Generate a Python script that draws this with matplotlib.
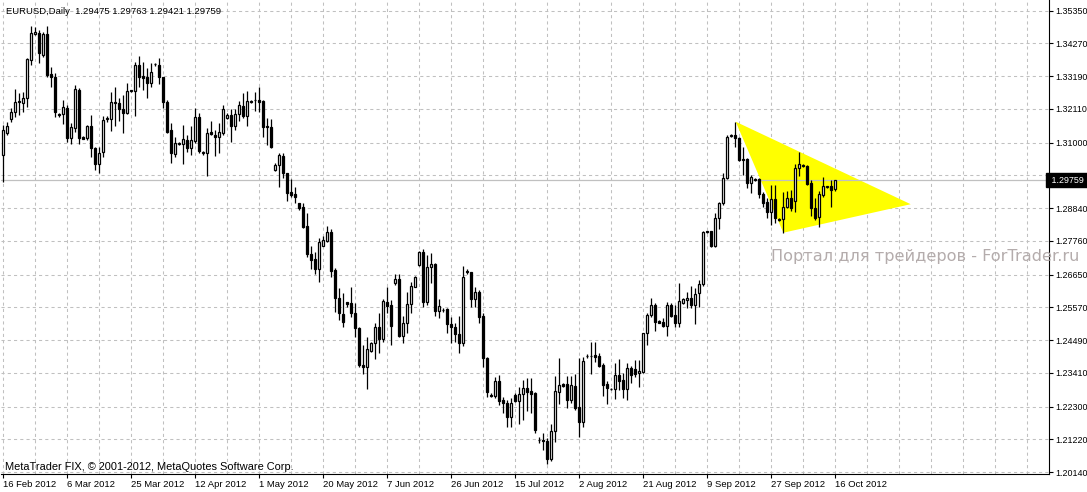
import numpy as np
import pandas as pd
import matplotlib
matplotlib.use('Agg')
import matplotlib.pyplot as plt
from matplotlib.patches import Rectangle, Polygon

# EURUSD daily bars, 16 Feb 2012 - 16 Oct 2012 (broker with Sunday bars)
dates = pd.bdate_range('2012-02-16', '2012-10-16', freq='C',
                       weekmask='Sun Mon Tue Wed Thu Fri')

opens = [1.3059, 1.3131, 1.3177, 1.3202, 1.3236, 1.3230, 1.3246, 1.3373, 1.3458, 1.3460,
         1.3389, 1.3458, 1.3326, 1.3315, 1.3193, 1.3193, 1.3213, 1.3114, 1.3147, 1.3274,
         1.3117, 1.3114, 1.3155, 1.3081, 1.3030, 1.3070, 1.3178, 1.3178, 1.3235, 1.3230,
         1.3210, 1.3199, 1.3270, 1.3271, 1.3356, 1.3320, 1.3315, 1.3296, 1.3358, 1.3356,
         1.3315, 1.3235, 1.3142, 1.3063, 1.3097, 1.3096, 1.3109, 1.3081, 1.3107, 1.3186,
         1.3066, 1.3067, 1.3134, 1.3125, 1.3118, 1.3133, 1.3180, 1.3191, 1.3156, 1.3193,
         1.3221, 1.3189, 1.3238, 1.3242, 1.3241, 1.3237, 1.3155, 1.3150, 1.3010, 1.3026,
         1.3056, 1.2999, 1.2936, 1.2930, 1.2900, 1.2887, 1.2825, 1.2733, 1.2715, 1.2682,
         1.2760, 1.2777, 1.2807, 1.2680, 1.2587, 1.2534, 1.2575, 1.2570, 1.2537, 1.2488,
         1.2367, 1.2359, 1.2414, 1.2438, 1.2493, 1.2452, 1.2576, 1.2565, 1.2638, 1.2649,
         1.2463, 1.2504, 1.2567, 1.2625, 1.2697, 1.2738, 1.2576, 1.2689, 1.2700, 1.2546,
         1.2549, 1.2552, 1.2501, 1.2491, 1.2468, 1.2441, 1.2676, 1.2672, 1.2583, 1.2609,
         1.2529, 1.2389, 1.2269, 1.2266, 1.2314, 1.2252, 1.2243, 1.2197, 1.2268, 1.2249,
         1.2270, 1.2292, 1.2281, 1.2276, 1.2121, 1.2120, 1.2116, 1.2056, 1.2149, 1.2279,
         1.2303, 1.2303, 1.2252, 1.2298, 1.2230, 1.2180, 1.2398, 1.2398, 1.2399, 1.2397,
         1.2367, 1.2303, 1.2289, 1.2288, 1.2334, 1.2318, 1.2287, 1.2356, 1.2353, 1.2339,
         1.2345, 1.2471, 1.2532, 1.2565, 1.2512, 1.2510, 1.2497, 1.2565, 1.2532, 1.2504,
         1.2570, 1.2581, 1.2587, 1.2565, 1.2603, 1.2634, 1.2808, 1.2809, 1.2759, 1.2850,
         1.2900, 1.2985, 1.3122, 1.3125, 1.3114, 1.3046, 1.3045, 1.2966, 1.2981, 1.2979,
         1.2931, 1.2905, 1.2872, 1.2913, 1.2849, 1.2847, 1.2887, 1.2916, 1.2909, 1.3015,
         1.3026, 1.3023, 1.2966, 1.2883, 1.2854, 1.2927, 1.2954, 1.2957, 1.29475]
highs = [1.3158, 1.3169, 1.3213, 1.3276, 1.3265, 1.3268, 1.3378, 1.3485, 1.3480, 1.3471,
         1.3466, 1.3485, 1.3351, 1.3331, 1.3199, 1.3241, 1.3224, 1.3164, 1.3290, 1.3279,
         1.3122, 1.3158, 1.3191, 1.3087, 1.3087, 1.3188, 1.3188, 1.3268, 1.3285, 1.3248,
         1.3257, 1.3296, 1.3275, 1.3367, 1.3386, 1.3367, 1.3345, 1.3362, 1.3364, 1.3378,
         1.3318, 1.3241, 1.3164, 1.3120, 1.3103, 1.3158, 1.3125, 1.3155, 1.3213, 1.3197,
         1.3073, 1.3147, 1.3172, 1.3142, 1.3166, 1.3224, 1.3199, 1.3210, 1.3210, 1.3237,
         1.3263, 1.3270, 1.3241, 1.3268, 1.3285, 1.3241, 1.3180, 1.3177, 1.3032, 1.3065,
         1.3067, 1.3001, 1.2980, 1.2955, 1.2902, 1.2902, 1.2867, 1.2759, 1.2741, 1.2785,
         1.2792, 1.2825, 1.2814, 1.2686, 1.2620, 1.2605, 1.2576, 1.2625, 1.2572, 1.2491,
         1.2433, 1.2458, 1.2444, 1.2506, 1.2539, 1.2583, 1.2623, 1.2581, 1.2666, 1.2666,
         1.2528, 1.2609, 1.2642, 1.2660, 1.2744, 1.2748, 1.2730, 1.2737, 1.2704, 1.2583,
         1.2554, 1.2554, 1.2524, 1.2507, 1.2529, 1.2693, 1.2682, 1.2675, 1.2625, 1.2614,
         1.2537, 1.2392, 1.2274, 1.2328, 1.2334, 1.2263, 1.2252, 1.2257, 1.2274, 1.2293,
         1.2318, 1.2323, 1.2325, 1.2279, 1.2128, 1.2142, 1.2125, 1.2172, 1.2332, 1.2391,
         1.2307, 1.2332, 1.2332, 1.2337, 1.2389, 1.2392, 1.2403, 1.2442, 1.2442, 1.2405,
         1.2372, 1.2315, 1.2291, 1.2375, 1.2387, 1.2342, 1.2375, 1.2364, 1.2383, 1.2383,
         1.2474, 1.2539, 1.2587, 1.2570, 1.2515, 1.2521, 1.2576, 1.2570, 1.2565, 1.2636,
         1.2587, 1.2609, 1.2627, 1.2620, 1.2647, 1.2810, 1.2810, 1.2810, 1.2867, 1.2905,
         1.3001, 1.3125, 1.3129, 1.3169, 1.3120, 1.3087, 1.3048, 1.2993, 1.2983, 1.2982,
         1.2938, 1.2916, 1.2960, 1.2960, 1.2850, 1.2938, 1.2942, 1.2944, 1.3030, 1.3070,
         1.3029, 1.3026, 1.2977, 1.2916, 1.2942, 1.2988, 1.2958, 1.2977, 1.29763]
lows = [1.2970, 1.3125, 1.3169, 1.3186, 1.3191, 1.3202, 1.3219, 1.3356, 1.3455, 1.3364,
        1.3384, 1.3315, 1.3285, 1.3186, 1.3186, 1.3162, 1.3103, 1.3096, 1.3136, 1.3096,
        1.3111, 1.3109, 1.3052, 1.3010, 1.3001, 1.3052, 1.3169, 1.3140, 1.3155, 1.3173,
        1.3133, 1.3195, 1.3267, 1.3188, 1.3285, 1.3274, 1.3246, 1.3285, 1.3353, 1.3293,
        1.3213, 1.3133, 1.3034, 1.3054, 1.3092, 1.3030, 1.3070, 1.3059, 1.3098, 1.3067,
        1.3059, 1.2990, 1.3125, 1.3056, 1.3067, 1.3125, 1.3177, 1.3103, 1.3142, 1.3172,
        1.3180, 1.3156, 1.3230, 1.3205, 1.3202, 1.3120, 1.3092, 1.3081, 1.3008, 1.2955,
        1.2982, 1.2909, 1.2922, 1.2902, 1.2878, 1.2820, 1.2722, 1.2682, 1.2667, 1.2642,
        1.2759, 1.2774, 1.2656, 1.2543, 1.2515, 1.2493, 1.2559, 1.2526, 1.2460, 1.2359,
        1.2337, 1.2287, 1.2411, 1.2386, 1.2408, 1.2444, 1.2539, 1.2433, 1.2631, 1.2460,
        1.2441, 1.2471, 1.2539, 1.2623, 1.2693, 1.2557, 1.2565, 1.2636, 1.2529, 1.2521,
        1.2543, 1.2471, 1.2441, 1.2444, 1.2405, 1.2430, 1.2667, 1.2559, 1.2557, 1.2507,
        1.2361, 1.2260, 1.2263, 1.2259, 1.2235, 1.2208, 1.2164, 1.2161, 1.2246, 1.2172,
        1.2186, 1.2216, 1.2210, 1.2144, 1.2111, 1.2087, 1.2041, 1.2050, 1.2114, 1.2238,
        1.2293, 1.2224, 1.2241, 1.2219, 1.2131, 1.2164, 1.2389, 1.2337, 1.2378, 1.2359,
        1.2266, 1.2238, 1.2285, 1.2255, 1.2285, 1.2257, 1.2252, 1.2307, 1.2328, 1.2293,
        1.2339, 1.2433, 1.2524, 1.2480, 1.2504, 1.2493, 1.2464, 1.2524, 1.2493, 1.2493,
        1.2568, 1.2554, 1.2554, 1.2501, 1.2559, 1.2627, 1.2803, 1.2755, 1.2757, 1.2814,
        1.2894, 1.2979, 1.3118, 1.3085, 1.3041, 1.2993, 1.2949, 1.2933, 1.2975, 1.2916,
        1.2889, 1.2850, 1.2828, 1.2834, 1.2843, 1.2803, 1.2883, 1.2876, 1.2872, 1.2990,
        1.3019, 1.2960, 1.2858, 1.2845, 1.2823, 1.2920, 1.2950, 1.2889, 1.29421]
closes = [1.3142, 1.3155, 1.3202, 1.3233, 1.3233, 1.3246, 1.3375, 1.3463, 1.3466, 1.3395,
          1.3458, 1.3323, 1.3315, 1.3202, 1.3191, 1.3217, 1.3114, 1.3151, 1.3276, 1.3114,
          1.3113, 1.3155, 1.3081, 1.3030, 1.3067, 1.3175, 1.3180, 1.3233, 1.3230, 1.3210,
          1.3197, 1.3271, 1.3273, 1.3356, 1.3315, 1.3312, 1.3298, 1.3334, 1.3360, 1.3315,
          1.3235, 1.3136, 1.3065, 1.3100, 1.3099, 1.3112, 1.3081, 1.3109, 1.3186, 1.3074,
          1.3068, 1.3131, 1.3127, 1.3118, 1.3134, 1.3210, 1.3191, 1.3156, 1.3193, 1.3224,
          1.3189, 1.3237, 1.3234, 1.3240, 1.3235, 1.3153, 1.3150, 1.3087, 1.3026, 1.3059,
          1.2999, 1.2933, 1.2927, 1.2922, 1.2883, 1.2823, 1.2733, 1.2713, 1.2682, 1.2774,
          1.2779, 1.2807, 1.2678, 1.2587, 1.2537, 1.2510, 1.2568, 1.2539, 1.2488, 1.2367,
          1.2359, 1.2419, 1.2438, 1.2493, 1.2452, 1.2578, 1.2561, 1.2495, 1.2649, 1.2463,
          1.2504, 1.2567, 1.2627, 1.2656, 1.2738, 1.2576, 1.2689, 1.2700, 1.2546, 1.2561,
          1.2547, 1.2501, 1.2491, 1.2468, 1.2441, 1.2656, 1.2674, 1.2583, 1.2607, 1.2526,
          1.2389, 1.2279, 1.2266, 1.2314, 1.2249, 1.2241, 1.2197, 1.2243, 1.2249, 1.2270,
          1.2292, 1.2277, 1.2271, 1.2153, 1.2119, 1.2115, 1.2056, 1.2149, 1.2281, 1.2301,
          1.2296, 1.2252, 1.2301, 1.2226, 1.2180, 1.2380, 1.2396, 1.2396, 1.2393, 1.2365,
          1.2301, 1.2292, 1.2287, 1.2334, 1.2315, 1.2287, 1.2356, 1.2334, 1.2337, 1.2348,
          1.2471, 1.2532, 1.2565, 1.2510, 1.2506, 1.2497, 1.2565, 1.2530, 1.2504, 1.2578,
          1.2583, 1.2587, 1.2565, 1.2601, 1.2634, 1.2804, 1.2805, 1.2759, 1.2850, 1.2900,
          1.2985, 1.3118, 1.3124, 1.3114, 1.3043, 1.3044, 1.2966, 1.2988, 1.2977, 1.2931,
          1.2902, 1.2872, 1.2913, 1.2850, 1.2845, 1.2887, 1.2916, 1.2883, 1.3015, 1.3030,
          1.3022, 1.2964, 1.2883, 1.2850, 1.2931, 1.2957, 1.2956, 1.2944, 1.29759]

price_ticks = [1.35350, 1.34270, 1.33190, 1.32110, 1.31000, 1.29920, 1.28840, 1.27760,
               1.26650, 1.25570, 1.24490, 1.23410, 1.22300, 1.21220, 1.20140]

# triangle object: (bar index, price)
triangle_pts = [(183.1, 1.3169), (226.85, 1.2897), (195.0, 1.2803)]

header = "EURUSD,Daily  1.29475 1.29763 1.29421 1.29759"
last_price = 1.29759

FONT = 'Liberation Sans'
W, H = 1087, 492
fig = plt.figure(figsize=(W / 100, H / 100), dpi=100)
fig.patch.set_facecolor('white')
ax = fig.add_axes([1 / W, 18 / H, 1048 / W, 474 / H])
ax.set_facecolor('white')

n = len(opens)
ax.set_xlim(-0.575, -0.575 + 1048 / 4)
ax.set_ylim(1.20075, 1.35703)

# grid
for k in range(0, 262, 8):
    ax.axvline(k, color='#c0c0c0', lw=0.75, ls=(0, (3, 3)), zorder=0)
for p in price_ticks:
    ax.axhline(p, color='#c0c0c0', lw=0.75, ls=(0, (3, 3)), zorder=0)

# triangle
ax.add_patch(Polygon(triangle_pts, closed=True, facecolor='#ffff00',
                     edgecolor='none', zorder=1))

# current price line
ax.axhline(last_price, color='#c0c0c0', lw=0.9, zorder=1.5)

# candles
for i in range(n):
    o, h, l, c = opens[i], highs[i], lows[i], closes[i]
    ax.vlines(i, l, h, color='black', lw=0.9, zorder=3)
    face = 'white' if c >= o else 'black'
    ax.add_patch(Rectangle((i - 0.25, min(o, c)), 0.5, abs(c - o),
                           facecolor=face, edgecolor='black', lw=0.9, zorder=4))

# axes styling
for side in ['top', 'left']:
    ax.spines[side].set_visible(False)
for side in ['bottom', 'right']:
    ax.spines[side].set_linewidth(0.8)
    ax.spines[side].set_color('black')

ax.yaxis.tick_right()
ax.set_yticks(price_ticks)
ax.set_yticklabels([f"{p:.5f}" for p in price_ticks], fontsize=6.4, family=FONT)
tick_idx = list(range(0, n, 16))
ax.set_xticks(tick_idx)
ax.set_xticklabels([f"{dates[i].day} {dates[i].strftime('%b %Y')}" for i in tick_idx],
                   fontsize=6.8, family=FONT, ha='left')
ax.tick_params(axis='both', direction='out', length=3, width=0.8, color='black')
ax.tick_params(axis='x', pad=1.5)
ax.tick_params(axis='y', pad=1.2)

# texts
fig.text(6 / W, 1 - 11 / H, header, fontsize=6.8, family=FONT, va='center', ha='left')
fig.text(5 / W, 1 - 467 / H, "MetaTrader FIX, © 2001-2012, MetaQuotes Software Corp.",
         fontsize=7.9, family=FONT, va='center', ha='left')
fig.text(771 / W, 1 - 257 / H, "Портал для трейдеров - ForTrader.ru",
         fontsize=11.6, family='DejaVu Sans', color='#b4acac', va='center', ha='left')

# last price box on the price scale
ax.text(1.0, last_price, f" {last_price:.5f}   ", transform=ax.get_yaxis_transform(),
        fontsize=6.4, family=FONT, color='white', va='center', ha='left', clip_on=False,
        zorder=10, bbox=dict(boxstyle='square,pad=0.3', facecolor='black', edgecolor='black'))

fig.savefig('out.png', dpi=100)
